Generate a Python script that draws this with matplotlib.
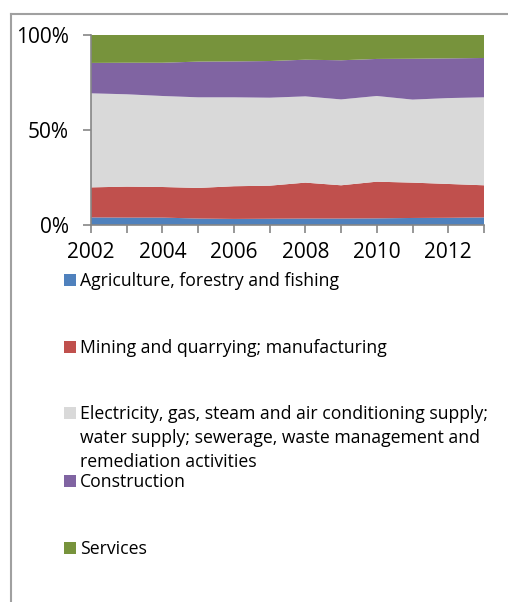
import matplotlib
matplotlib.use("Agg")
import matplotlib.pyplot as plt
from matplotlib.lines import Line2D
from matplotlib.patches import Rectangle
from matplotlib.ticker import PercentFormatter

plt.rcParams['font.family'] = ['Open Sans', 'DejaVu Sans']

# Shares of each sector, per cent of total
years = list(range(2002, 2014))
agriculture = [4.0, 3.9, 3.9, 3.4, 3.2, 3.3, 3.4, 3.4, 3.5, 3.7, 3.8, 4.0]
mining = [15.8, 16.3, 16.1, 16.1, 17.2, 17.4, 18.9, 17.5, 19.3, 18.6, 17.8, 16.9]
electricity = [49.5, 48.6, 47.9, 47.7, 46.8, 46.3, 45.4, 45.2, 45.1, 43.7, 45.2, 46.3]
construction = [16.0, 16.6, 17.5, 18.8, 18.9, 19.3, 19.3, 20.6, 19.5, 21.5, 20.9, 20.7]
services = [14.7, 14.6, 14.6, 14.0, 13.9, 13.7, 13.0, 13.3, 12.6, 12.5, 12.3, 12.1]

labels = [
    "Agriculture, forestry and fishing",
    "Mining and quarrying; manufacturing",
    "Electricity, gas, steam and air conditioning supply;\n"
    "water supply; sewerage, waste management and\n"
    "remediation activities",
    "Construction",
    "Services",
]
colors = ["#4f81bd", "#c0504d", "#d9d9d9", "#8064a2", "#77933c"]

W, H = 508, 602
fig = plt.figure(figsize=(W / 100, H / 100), dpi=100)
ax = fig.add_axes([91 / W, 1 - 225 / H, (484 - 91) / W, (225 - 35) / H])

series = [agriculture, mining, electricity, construction, services]
ax.stackplot(years, *series, colors=colors, linewidth=0)

ax.set_xlim(2002, 2013)
ax.set_ylim(0, 100)
ax.set_yticks([0, 50, 100])
ax.yaxis.set_major_formatter(PercentFormatter(decimals=0))
ax.set_xticks(years)
ax.set_xticklabels([str(y) if y % 2 == 0 else "" for y in years])

for side in ("top", "right"):
    ax.spines[side].set_visible(False)
for side in ("left", "bottom"):
    ax.spines[side].set_color("#868686")
    ax.spines[side].set_linewidth(1.2)
ax.tick_params(axis="both", direction="out", length=6, width=1.2,
               color="#868686", labelsize=15, labelcolor="black")
ax.tick_params(axis="y", pad=10)
ax.tick_params(axis="x", pad=6)

# Legend drawn as a column under the plot
rows_y = [280, 347, 413, 481, 548]
for lab, col, yy in zip(labels, colors, rows_y):
    fig.add_artist(Rectangle((64 / W, 1 - (yy + 6) / H), 12 / W, 12 / H,
                             transform=fig.transFigure, facecolor=col,
                             edgecolor="none"))
    fig.text(80 / W, 1 - (yy - 8) / H, lab, fontsize=12.7, va="top",
             ha="left", linespacing=1.42)

# Outer frame
fig.add_artist(Line2D([11 / W, 1], [1 - 14 / H, 1 - 14 / H],
                      transform=fig.transFigure, color="#a0a0a0", lw=1.5))
fig.add_artist(Line2D([11 / W, 11 / W], [1 - 14 / H, 0],
                      transform=fig.transFigure, color="#a0a0a0", lw=1.5))

fig.savefig("out.png", dpi=100)
